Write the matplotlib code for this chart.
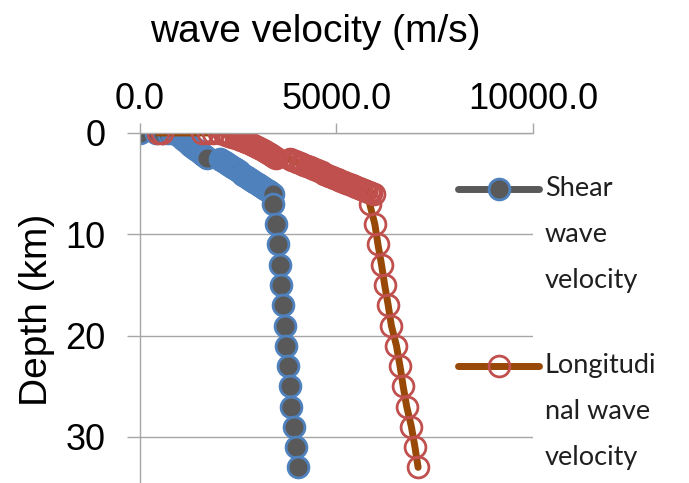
import numpy as np
import matplotlib.pyplot as plt
from matplotlib.legend_handler import HandlerLine2D

# depth of each sample (km), shared by both series
depth_km = [
    0.0, 0.0, 0.0, 0.0, 0.0, 0.0, 0.0,
    0.1, 0.2, 0.3, 0.4, 0.5, 0.6, 0.7, 0.8, 0.9, 1.0,
    1.1, 1.2, 1.3, 1.4, 1.5, 1.6, 1.7, 1.8, 1.9, 2.0,
    2.1, 2.2, 2.3, 2.4, 2.5,
    2.6, 2.7, 2.8, 2.9, 3.0, 3.1, 3.2, 3.3, 3.4, 3.5,
    3.6, 3.7, 3.8, 3.9, 4.0, 4.1, 4.2, 4.3, 4.4, 4.5,
    4.6, 4.7, 4.8, 4.9, 5.0, 5.1, 5.2, 5.3, 5.4, 5.5,
    5.6, 5.7, 5.8, 5.9, 6.0,
    7, 9, 11, 13, 15, 17, 19, 21, 23, 25, 27, 29, 31, 33,
]

# shear wave velocity (m/s)
vs = [
    0, 430, 600, 720, 820, 900, 950,
    970, 990, 1020, 1050, 1080, 1110, 1140, 1170, 1200, 1230,
    1260, 1290, 1320, 1360, 1390, 1420, 1460, 1490, 1530, 1560,
    1590, 1620, 1660, 1690, 1720,
    2040, 2080, 2120, 2160, 2200, 2240, 2280, 2320, 2360, 2400,
    2440, 2480, 2520, 2560, 2600, 2640, 2680, 2720, 2760, 2800,
    2840, 2880, 2920, 2960, 3000, 3040, 3080, 3120, 3160, 3200,
    3240, 3280, 3320, 3350, 3380,
    3400, 3470, 3520, 3560, 3600, 3650, 3690, 3730, 3780, 3820,
    3860, 3920, 3970, 4020,
]

# longitudinal wave velocity (m/s)
vp = [
    470, 560, 1580, 1730, 1880, 2020, 2140,
    2170, 2210, 2280, 2360, 2440, 2520, 2590, 2650, 2710, 2770,
    2830, 2880, 2930, 2980, 3030, 3080, 3130, 3180, 3220, 3270,
    3310, 3350, 3390, 3430, 3470,
    3820, 3880, 3940, 4000, 4070, 4130, 4190, 4260, 4320, 4380,
    4440, 4510, 4570, 4630, 4700, 4760, 4820, 4880, 4950, 5010,
    5070, 5130, 5200, 5260, 5320, 5390, 5450, 5510, 5570, 5640,
    5700, 5760, 5830, 5890, 5950,
    5850, 5980, 6060, 6150, 6230, 6320, 6400, 6530, 6620, 6700,
    6790, 6910, 7000, 7080,
]

x_ticks = [0, 5000, 10000]
y_ticks = [0, 10, 20, 30]
labels = ["Shear\nwave\nvelocity", "Longitudi\nnal wave\nvelocity"]


class FirstLineHandler(HandlerLine2D):
    """Put the legend sample next to the first line of a multi-line label."""

    def __init__(self, shift, **kw):
        super().__init__(**kw)
        self.shift = shift

    def create_artists(self, legend, orig_handle, xdescent, ydescent,
                       width, height, fontsize, trans):
        artists = super().create_artists(legend, orig_handle, xdescent, ydescent,
                                         width, height, fontsize, trans)
        for a in artists:
            a.set_ydata(np.asarray(a.get_ydata()) + self.shift)
        return artists


axis_font = "Liberation Sans"
grid_gray = "#A6A6A6"

fig = plt.figure(figsize=(6.89, 4.83), dpi=100)
ax = fig.add_axes([0.2025, -0.1145, 0.5711, 0.8392])

l1, = ax.plot(vs, depth_km, color="#595959", lw=5, solid_capstyle="round",
              marker="o", ms=15, mfc="#595959", mec="#4F81BD", mew=2)
l2, = ax.plot(vp, depth_km, color="#984807", lw=5, solid_capstyle="round",
              marker="o", ms=15, mfc="none", mec="#C0504D", mew=2)

ax.set_xlim(0, 10000)
ax.set_ylim(40, 0)
ax.xaxis.tick_top()
ax.set_xticks(x_ticks)
ax.set_xticklabels([f"{v:.1f}" for v in x_ticks], fontsize=26, family=axis_font)
ax.set_yticks(y_ticks)
ax.set_yticklabels([str(v) for v in y_ticks], fontsize=26, family=axis_font)
ax.tick_params(axis="x", direction="out", length=7.5, width=1, color=grid_gray, pad=4)
ax.tick_params(axis="y", direction="out", length=9.5, width=1, color=grid_gray, pad=15)

ax.grid(axis="y", color=grid_gray, lw=1)
ax.set_axisbelow(True)
for side in ["right", "bottom"]:
    ax.spines[side].set_visible(False)
for side in ["left", "top"]:
    ax.spines[side].set_color(grid_gray)
    ax.spines[side].set_linewidth(1)

ax.xaxis.set_label_position("top")
ax.set_xlabel("wave velocity (m/s)", fontsize=28, family=axis_font)
ax.xaxis.set_label_coords(0.447, 1.225)
ax.set_ylabel("Depth (km)", fontsize=28, family=axis_font)
ax.yaxis.set_label_coords(-0.215, 0.563)

leg = ax.legend([l1, l2], labels, loc="upper left", bbox_to_anchor=(0.6647, 0.635),
                bbox_transform=fig.transFigure, frameon=False,
                prop={"family": "Lato", "size": 19.5}, borderpad=0, borderaxespad=0,
                handlelength=3.0, handletextpad=0.2, labelspacing=2.2,
                handler_map={l1: FirstLineHandler(33), l2: FirstLineHandler(33)})
for t in leg.get_texts():
    t.set_linespacing(2.05)
    t.set_color("#1F1F1F")

fig.savefig("out.png", dpi=100)
